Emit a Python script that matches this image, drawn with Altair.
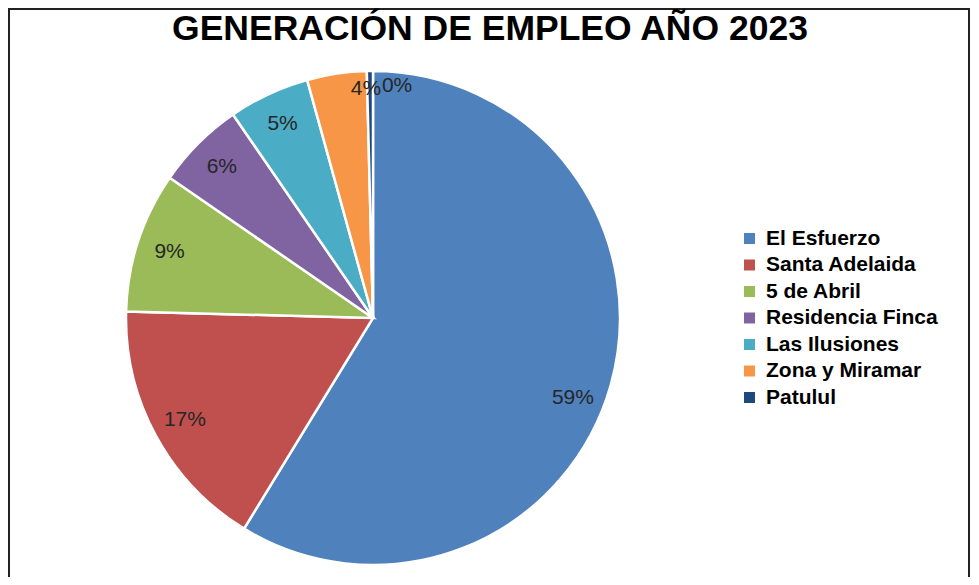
import altair as alt
import pandas as pd

names = ["El Esfuerzo", "Santa Adelaida", "5 de Abril", "Residencia Finca",
         "Las Ilusiones", "Zona y Miramar", "Patulul"]
values = [58.8, 16.7, 9.2, 5.8, 5.3, 3.9, 0.4]
colors = ["#4F81BD", "#C0504D", "#9BBB59", "#8064A2", "#4BACC6", "#F79646", "#1F497D"]
title_text = "GENERACIÓN DE EMPLEO AÑO 2023"

df = pd.DataFrame({"name": names, "value": values, "idx": list(range(len(names)))})

W, H = 963, 569
CX, CY, R = 365, 310, 247

base = alt.Chart(df).encode(
    theta=alt.Theta("value:Q", stack=True),
    order=alt.Order("idx:Q"),
).transform_calculate(
    label="format(datum.value/100, '.0%')",
    big="datum.value >= 50 ? datum.label : ''",
    mid="datum.value >= 5 && datum.value < 50 ? datum.label : ''",
    small="datum.value < 5 ? datum.label : ''",
)

arcs = base.mark_arc(outerRadius=R, stroke="white", strokeWidth=2.5).encode(
    x=alt.value(CX), y=alt.value(CY),
    color=alt.Color(
        "name:N",
        scale=alt.Scale(domain=names, range=colors),
        sort=names,
        legend=alt.Legend(
            title=None, orient="none", legendX=731, legendY=220,
            symbolType="square", symbolSize=121, symbolStrokeWidth=0,
            labelFont="Liberation Sans", labelFontSize=21, labelFontWeight="bold",
            labelColor="#000000", labelOffset=6, rowPadding=4.5, labelLimit=400,
        ),
    ),
)

txt_style = dict(font="Liberation Sans", fontSize=21, color="#262626")
lbl_big = base.mark_text(radius=215, dx=-7, dy=22, **txt_style).encode(
    x=alt.value(CX), y=alt.value(CY), text="big:N")
lbl_mid = base.mark_text(radius=214, **txt_style).encode(
    x=alt.value(CX), y=alt.value(CY), text="mid:N")
lbl_small = base.mark_text(radius=232, dx=27, **txt_style).encode(
    x=alt.value(CX), y=alt.value(CY), text="small:N")

title_df = pd.DataFrame({"t": [title_text]})
title = alt.Chart(title_df).mark_text(
    font="Liberation Sans", fontSize=35.5, fontWeight="bold", color="#000000",
    baseline="alphabetic", align="center",
).encode(x=alt.value(482), y=alt.value(32), text="t:N")

border = alt.Chart(pd.DataFrame({"k": [0]})).mark_rect(
    fill=None, stroke="#222222", strokeWidth=2,
).encode(x=alt.value(1), x2=alt.value(W - 2), y=alt.value(1), y2=alt.value(H + 20))

chart = alt.layer(border, arcs, lbl_big, lbl_mid, lbl_small, title).properties(
    width=W, height=H,
    autosize=alt.AutoSizeParams(type="none"),
    padding=0,
    background="white",
).configure_view(stroke=None)

chart.save("out.html", embed_options={"renderer": "svg", "actions": False})
